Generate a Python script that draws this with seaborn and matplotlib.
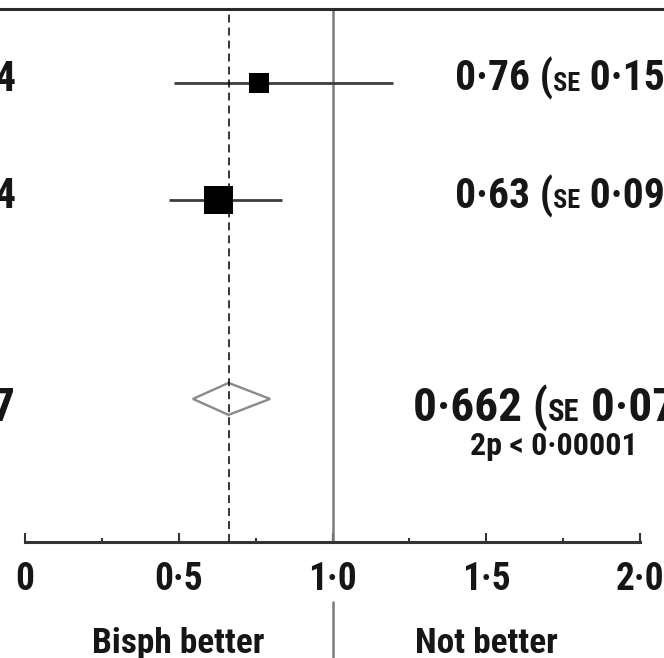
import matplotlib
matplotlib.use("Agg")
import matplotlib.pyplot as plt
import seaborn as sns
import pandas as pd
from matplotlib import font_manager, transforms

# ---------------- data ----------------
left_labels = ["4", "4"]
pooled_left_label = "7"
estimates = [0.76, 0.63]
ci_low = [0.484, 0.469]
ci_high = [1.197, 0.836]
est_labels = ["0·76", "0·63"]
se_labels = ["0·15", "0·09"]
pooled_est = 0.662
pooled_low = 0.546
pooled_high = 0.797
pooled_label = "0·662"
pooled_se = "0·07"
p_label = "2p < 0·00001"
x_ticks = [0, 0.5, 1.0, 1.5, 2.0]
x_ticklabels = ["0", "0·5", "1·0", "1·5", "2·0"]
x_minor = [0.25, 0.75, 1.25, 1.75]
side_labels = ["Bisph better", "Not better"]
side_pos = [0.5, 1.5]

# ---------------- style ----------------
sns.set_theme(style="white")
allf = {f.name for f in font_manager.fontManager.ttflist}
cands = ["Roboto Condensed", "Archivo Narrow", "Fira Sans Condensed", "Liberation Sans"]
FONT = next(c for c in cands if c in allf)
plt.rcParams["font.family"] = [FONT, "DejaVu Sans"]
TXT = "#161616"
WEIGHT = "semibold"

W, H = 664, 658
fig = plt.figure(figsize=(W / 100, H / 100), dpi=100)
fig.patch.set_facecolor("white")
ax_bottom_px, ax_top_px = 542, 9
ax = fig.add_axes([0, (H - ax_bottom_px) / H, 1, (ax_bottom_px - ax_top_px) / H])
ax.set_facecolor("white")

px0, scale = 25, 307.5
ax.set_xlim(-px0 / scale, (W - px0) / scale)
row_px0, row_step = 83, 117
ax.set_ylim((ax_bottom_px - row_px0) / row_step, (ax_top_px - row_px0) / row_step)

row_y = [0, 1]
pooled_y = 2.70

df = pd.DataFrame({"est": estimates, "y": row_y, "lo": ci_low, "hi": ci_high,
                   "w": ["a", "b"]})

# confidence intervals and squares
ax.hlines(df["y"], df["lo"], df["hi"], color="#3c3c3c", lw=2.0, zorder=2)
sns.scatterplot(data=df, x="est", y="y", size="w", sizes={"a": 200, "b": 430},
                marker="s", color="black", linewidth=0, legend=False, ax=ax, zorder=3)

# pooled diamond
dh = 16 / row_step
ax.fill([pooled_low, pooled_est, pooled_high, pooled_est, pooled_low],
        [pooled_y, pooled_y - dh, pooled_y, pooled_y + dh, pooled_y],
        facecolor="white", edgecolor="#8a8a8a", lw=1.7, zorder=3)

# reference lines
ax.axvline(1.0, color="#7c7c7c", lw=1.8, zorder=1)
ax.axvline(pooled_est, color="black", lw=1.1, ls=(0, (5.2, 3.3)), zorder=4)

# axes
for s in ["left", "right"]:
    ax.spines[s].set_visible(False)
ax.spines["top"].set_linewidth(2.2)
ax.spines["top"].set_color("#2a2a2a")
ax.spines["bottom"].set_linewidth(2.2)
ax.spines["bottom"].set_color("#333333")
ax.spines["bottom"].set_bounds(0, 2)
ax.set_yticks([])
ax.set_xticks(x_ticks)
ax.set_xticklabels(x_ticklabels, fontweight=WEIGHT)
ax.set_xticks(x_minor, minor=True)
ax.tick_params(axis="x", which="major", direction="in", length=6.5, width=1.5,
               color="#333333", pad=14, labelsize=27, labelcolor=TXT, bottom=True)
ax.tick_params(axis="x", which="minor", direction="in", length=3.0, width=1.5,
               color="#333333", bottom=True)
ax.set_xlabel("")
ax.set_ylabel("")

fig.canvas.draw()
renderer = fig.canvas.get_renderer()


def pieces(x, y, parts):
    off = 0.0
    for s, size in parts:
        tr = transforms.offset_copy(ax.transData, fig=fig, x=off, y=0, units="dots")
        t = ax.text(x, y, s, transform=tr, fontsize=size, ha="left", va="baseline",
                    color=TXT, clip_on=False, fontweight=WEIGHT)
        off += t.get_window_extent(renderer=renderer).width


# right-hand estimate texts and clipped left-hand labels
text_x = (455 - px0) / scale
base_off = 8 / row_step
for yy, e, se, lab in zip(row_y, est_labels, se_labels, left_labels):
    pieces(text_x, yy + base_off, [(e + " (", 30), ("SE", 19), (" " + se + ")", 30)])
    ax.text((16 - px0) / scale, yy + base_off, lab, fontsize=30, ha="right",
            va="baseline", color=TXT, fontweight=WEIGHT)

pooled_x = (413 - px0) / scale
pooled_base = (421 - row_px0) / row_step
pieces(pooled_x, pooled_base, [(pooled_label + " (", 34), ("SE", 22), (" " + pooled_se + ")", 34)])
ax.text((14 - px0) / scale, pooled_base, pooled_left_label, fontsize=34, ha="right",
        va="baseline", color=TXT, fontweight=WEIGHT)
ax.text((470 - px0) / scale, (455 - row_px0) / row_step, p_label, fontsize=23,
        ha="left", va="baseline", color=TXT, fontweight=WEIGHT)

# below-axis labels and separator
blend = transforms.blended_transform_factory(ax.transData, fig.transFigure)
ax.plot([1.0, 1.0], [1 - 602 / H, 0], transform=blend, clip_on=False,
        color="#7c7c7c", lw=1.8)
for lab, xp in zip(side_labels, side_pos):
    ax.text(xp, 1 - 653 / H, lab, transform=blend, fontsize=25.5, ha="center",
            va="baseline", color=TXT, clip_on=False, fontweight=WEIGHT)

fig.savefig("out.png", dpi=100, facecolor="white")
